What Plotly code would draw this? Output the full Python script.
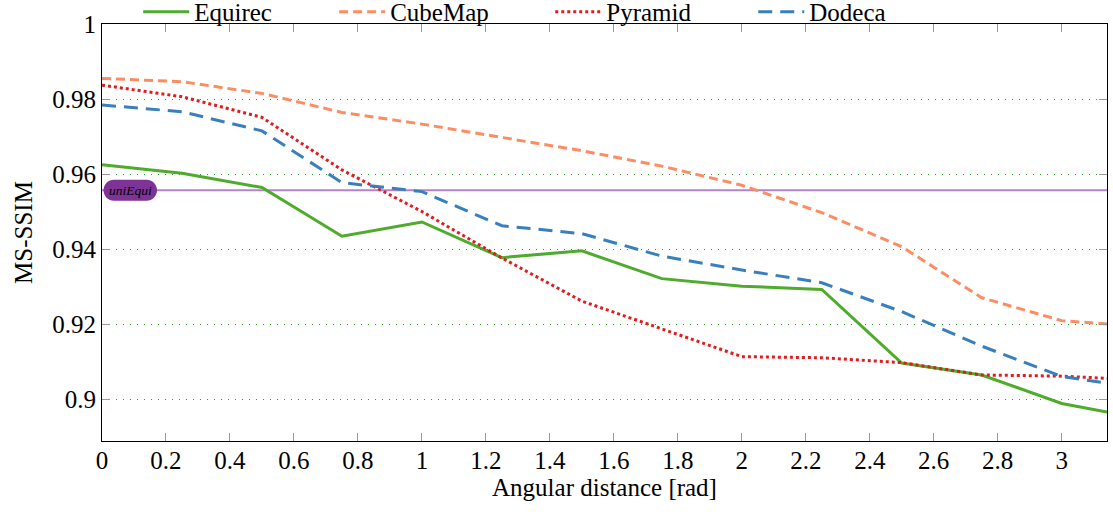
import math
import plotly.graph_objects as go

# ---- data ----
angles = [0, 0.25, 0.5, 0.75, 1.0, 1.25, 1.5, 1.75, 2.0, 2.25, 2.5, 2.75, 3.0, math.pi]
equirec = [0.9625, 0.9602, 0.9564, 0.9434, 0.9472, 0.9377, 0.9395, 0.9321, 0.9301, 0.9292,
           0.9096, 0.9064, 0.8988, 0.8965]
cubemap = [0.9855, 0.9846, 0.9815, 0.9764, 0.9733, 0.9698, 0.9662, 0.9621, 0.9570, 0.9497,
           0.9406, 0.9270, 0.9209, 0.9200]
pyramid = [0.9837, 0.9806, 0.9751, 0.9611, 0.9500, 0.9376, 0.9261, 0.9188, 0.9113, 0.9110,
           0.9097, 0.9064, 0.9061, 0.9055]
dodeca = [0.9784, 0.9766, 0.9715, 0.9577, 0.9553, 0.9462, 0.9441, 0.9381, 0.9344, 0.9310,
          0.9233, 0.9141, 0.9060, 0.9042]
uni_equi = 0.9557
uni_label = "uniEqui"
series_names = ["Equirec", "CubeMap", "Pyramid", "Dodeca"]
x_ticks = [0, 0.2, 0.4, 0.6, 0.8, 1, 1.2, 1.4, 1.6, 1.8, 2, 2.2, 2.4, 2.6, 2.8, 3]
y_ticks = [0.9, 0.92, 0.94, 0.96, 0.98, 1]
x_title = "Angular distance [rad]"
y_title = "MS-SSIM"

FONT = "Liberation Serif, Times New Roman, serif"
styles = [
    dict(color="#4fab2c", width=3, dash="solid"),
    dict(color="#fc8d62", width=3, dash="9px,5px"),
    dict(color="#e41a1c", width=3, dash="3px,3px"),
    dict(color="#3a7fbd", width=3, dash="14px,8px"),
]
legend_ids = ["legend", "legend2", "legend3", "legend4"]
legend_x = [0.036, 0.231, 0.446, 0.648]

fig = go.Figure()
for name, ys, st, lid in zip(series_names, [equirec, cubemap, pyramid, dodeca], styles, legend_ids):
    fig.add_trace(go.Scatter(x=angles, y=ys, mode="lines", name=name, line=st, legend=lid))

# reference line
fig.add_shape(type="line", xref="paper", x0=0, x1=1, yref="y", y0=uni_equi, y1=uni_equi,
              line=dict(color="#b482cc", width=2), layer="between")

# rounded label box (pixel-sized, anchored at the line's left end)
k = 0.5523
r = 10.5
x0, x1 = 1.5, 55
pathd = (f"M {x0+r},{-r} L {x1-r},{-r} "
         f"C {x1-r+k*r},{-r} {x1},{-k*r} {x1},0 "
         f"C {x1},{k*r} {x1-r+k*r},{r} {x1-r},{r} "
         f"L {x0+r},{r} "
         f"C {x0+r-k*r},{r} {x0},{k*r} {x0},0 "
         f"C {x0},{-k*r} {x0+r-k*r},{-r} {x0+r},{-r} Z")
fig.add_shape(type="path", xref="x", yref="y", xsizemode="pixel", ysizemode="pixel",
              xanchor=0, yanchor=uni_equi, path=pathd,
              fillcolor="#7e3396", line=dict(width=0), layer="above")
fig.add_annotation(x=0, y=uni_equi, xref="x", yref="y", text=f"<i>{uni_label}</i>",
                   showarrow=False, xanchor="center", xshift=28, yshift=0,
                   font=dict(family=FONT, size=13.5, color="black"))

axis_common = dict(
    showline=True, linecolor="black", linewidth=1.2, mirror="ticks",
    ticks="inside", ticklen=8, tickcolor="#9a9a9a", tickwidth=1.2,
    tickfont=dict(family=FONT, size=25, color="black"),
    zeroline=False,
)
fig.update_xaxes(range=[0, math.pi], tickvals=x_ticks, ticktext=[f"{t:g}" for t in x_ticks],
                 showgrid=False, ticklabelstandoff=-3,
                 title=dict(text=x_title, font=dict(family=FONT, size=25, color="black"), standoff=2),
                 **axis_common)
fig.update_yaxes(range=[0.8888, 1.0], tickvals=y_ticks, ticktext=[f"{t:g}" for t in y_ticks],
                 showgrid=True, gridcolor="#2ca02c", griddash="1px,6px", gridwidth=1,
                 title=dict(text=y_title, font=dict(family=FONT, size=25, color="black"), standoff=12),
                 **axis_common)

legend_common = dict(orientation="h", xanchor="left", y=1.029, yanchor="middle",
                     bgcolor="rgba(0,0,0,0)", font=dict(family=FONT, size=25, color="black"),
                     itemwidth=46)
fig.update_layout(
    width=1113, height=517,
    margin=dict(l=102, r=6, t=24, b=76, autoexpand=False),
    paper_bgcolor="white", plot_bgcolor="white",
    font=dict(family=FONT, color="black"),
    showlegend=True,
    **{lid: dict(x=lx, **legend_common) for lid, lx in zip(legend_ids, legend_x)},
)

fig.write_html("out.html")
